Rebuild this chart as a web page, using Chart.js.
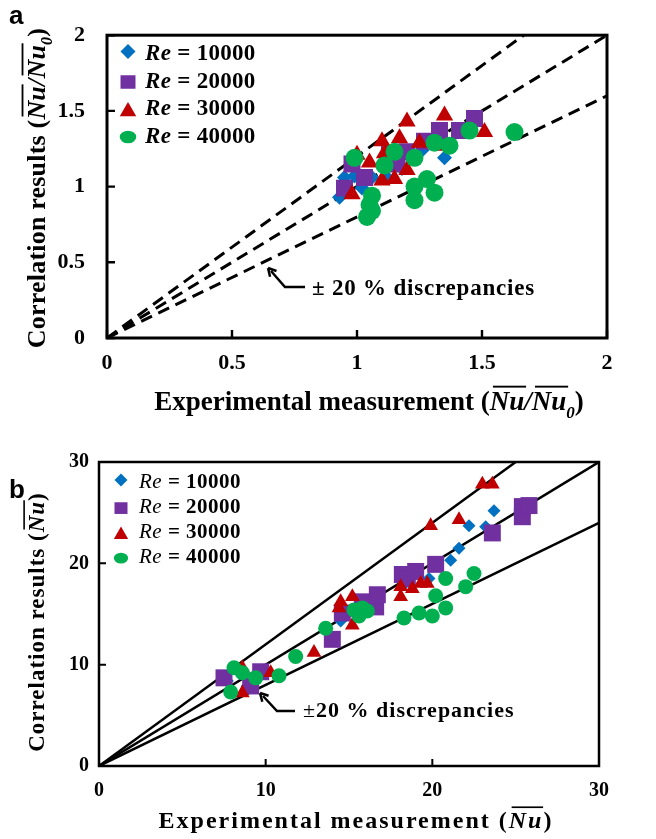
<!DOCTYPE html>
<html>
<head>
<meta charset="utf-8">
<script src="https://cdn.jsdelivr.net/npm/chart.js@4.4.1/dist/chart.umd.min.js"></script>
<style>
body { margin: 0; background: #fff; }
canvas { position: absolute; left: 0; }
</style>
</head>
<body>
<canvas id="chartA" width="656" height="420" style="top:0"></canvas>
<canvas id="chartB" width="656" height="419" style="top:420px"></canvas>
<script>
// series labels and colours
var seriesNames = ['10000', '20000', '30000', '40000'];
var seriesColors = ['#0070C0', '#7030A0', '#C00000', '#00B050'];

// panel a: Nu/Nu0
var aTicks = [0, 0.5, 1, 1.5, 2];
var aX10000 = [0.93, 0.95, 0.99, 1.02, 1.06, 1.11, 1.12, 1.18, 1.26, 1.35];
var aY10000 = [0.93, 1.06, 1.07, 0.99, 1.06, 1.15, 1.06, 1.12, 1.24, 1.19];
var aX20000 = [0.95, 0.98, 1.03, 1.13, 1.16, 1.20, 1.27, 1.33, 1.33, 1.41, 1.47];
var aY20000 = [0.99, 1.15, 1.06, 1.22, 1.15, 1.23, 1.30, 1.37, 1.31, 1.37, 1.45];
var aX30000 = [0.98, 1.00, 1.05, 1.10, 1.10, 1.11, 1.15, 1.17, 1.20, 1.20, 1.25, 1.33, 1.35, 1.51];
var aY30000 = [0.95, 1.21, 1.16, 1.30, 1.04, 1.22, 1.05, 1.32, 1.43, 1.11, 1.29, 1.27, 1.47, 1.36];
var aX40000 = [0.99, 1.04, 1.05, 1.06, 1.06, 1.11, 1.15, 1.23, 1.23, 1.23, 1.28, 1.31, 1.31, 1.37, 1.45, 1.63];
var aY40000 = [1.19, 0.80, 0.88, 0.84, 0.94, 1.14, 1.23, 1.19, 1.00, 0.91, 1.05, 0.96, 1.29, 1.27, 1.37, 1.36];
// +20 %, parity, -20 % lines (end points)
var aLineX = [[0, 1.667], [0, 2], [0, 2]];
var aLineY = [[0, 2], [0, 2], [0, 1.6]];

// panel b: Nu
var bTicks = [0, 10, 20, 30];
var bX10000 = [7.7, 8.9, 14.5, 14.7, 18.3, 19.8, 21.1, 21.6, 22.2, 23.2, 23.7];
var bY10000 = [8.4, 7.9, 14.3, 15.1, 17.9, 18.5, 20.3, 21.5, 23.7, 23.6, 25.2];
var bX20000 = [7.5, 9.1, 9.7, 14.0, 14.6, 15.8, 16.6, 16.7, 18.2, 18.5, 19.0, 20.2, 23.6, 25.4, 25.4, 25.8];
var bY20000 = [8.7, 7.9, 9.3, 12.5, 15.1, 16.2, 15.7, 16.9, 18.9, 18.5, 19.2, 19.9, 23.0, 25.6, 24.6, 25.7];
var bX30000 = [8.6, 8.6, 10.3, 12.9, 14.4, 14.5, 15.2, 15.2, 18.1, 18.1, 18.8, 19.3, 19.7, 19.9, 21.6, 23.0, 23.6];
var bY30000 = [7.2, 9.7, 9.2, 11.2, 15.6, 16.2, 16.7, 13.9, 17.7, 16.7, 17.5, 18.0, 18.0, 23.7, 24.3, 27.8, 27.8];
var bX40000 = [7.9, 8.1, 8.6, 9.4, 10.8, 11.8, 13.6, 15.3, 15.6, 15.8, 16.1, 18.3, 19.2, 20.0, 20.2, 20.8, 20.8, 22.0, 22.5];
var bY40000 = [7.3, 9.7, 9.2, 8.7, 8.9, 10.8, 13.6, 15.4, 14.8, 15.6, 15.3, 14.6, 15.1, 14.8, 16.8, 15.6, 18.5, 17.7, 19.0];
var bLineX = [[0, 25], [0, 30], [0, 30]];
var bLineY = [[0, 30], [0, 30], [0, 24]];

var SERIF = '"Liberation Serif", "Times New Roman", serif';

function pts(xs, ys) {
  return xs.map(function (x, i) { return { x: x, y: ys[i] }; });
}

function runFont(r, size) {
  var s = r.sub ? Math.round(size * 0.62) : size;
  return (r.italic ? 'italic ' : '') + (r.light ? '' : 'bold ') + s + 'px ' + SERIF;
}

// draws a line of text made of runs (italic / subscript / overline)
function drawRuns(ctx, runs, x, y, size, align, rotate, spacing) {
  ctx.save();
  ctx.translate(x, y);
  if (rotate) ctx.rotate(-Math.PI / 2);
  ctx.letterSpacing = (spacing || 0) + 'px';
  var total = 0;
  runs.forEach(function (r) {
    ctx.font = runFont(r, size);
    r.w = ctx.measureText(r.t).width;
    total += r.w;
  });
  var cx = align === 'center' ? -total / 2 : 0;
  ctx.fillStyle = '#000';
  ctx.textBaseline = 'alphabetic';
  ctx.textAlign = 'left';
  runs.forEach(function (r) {
    ctx.font = runFont(r, size);
    ctx.fillText(r.t, cx, r.sub ? size * 0.28 : 0);
    if (r.over) ctx.fillRect(cx + size * 0.12, -size * 0.9, r.w - size * 0.05 - (spacing || 0), Math.max(1.5, size * 0.07));
    cx += r.w;
  });
  ctx.restore();
}

function drawArrow(ctx, tip, elbow, end, head, lw) {
  ctx.save();
  ctx.strokeStyle = '#000';
  ctx.lineWidth = lw;
  ctx.beginPath();
  ctx.moveTo(end[0], end[1]);
  ctx.lineTo(elbow[0], elbow[1]);
  ctx.lineTo(tip[0] + 3, tip[1] + 3);
  ctx.stroke();
  var ang = Math.atan2(tip[1] - elbow[1], tip[0] - elbow[0]);
  ctx.beginPath();
  ctx.moveTo(tip[0], tip[1]);
  ctx.lineTo(tip[0] - head * Math.cos(ang - 0.5), tip[1] - head * Math.sin(ang - 0.5));
  ctx.moveTo(tip[0], tip[1]);
  ctx.lineTo(tip[0] - head * Math.cos(ang + 0.5), tip[1] - head * Math.sin(ang + 0.5));
  ctx.stroke();
  ctx.restore();
}

function legendMarker(ctx, i, x, y, s) {
  ctx.save();
  ctx.fillStyle = seriesColors[i];
  ctx.beginPath();
  if (i === 0) {
    ctx.moveTo(x, y - s * 0.5); ctx.lineTo(x + s * 0.5, y); ctx.lineTo(x, y + s * 0.5); ctx.lineTo(x - s * 0.5, y);
  } else if (i === 1) {
    ctx.rect(x - s * 0.5, y - s * 0.45, s, s * 0.9);
  } else if (i === 2) {
    ctx.moveTo(x, y - s * 0.5); ctx.lineTo(x + s * 0.55, y + s * 0.45); ctx.lineTo(x - s * 0.55, y + s * 0.45);
  } else {
    ctx.ellipse(x, y, s * 0.55, s * 0.42, 0, 0, Math.PI * 2);
  }
  ctx.closePath();
  ctx.fill();
  ctx.restore();
}

function makeDatasets(xs, ys, lineX, lineY, radii, dashed, lineWidth) {
  var styles = ['rectRot', 'rect', 'triangle', 'circle'];
  var sets = [];
  for (var i = 0; i < 4; i++) {
    sets.push({
      label: 'Re = ' + seriesNames[i],
      data: pts(xs[i], ys[i]),
      showLine: false,
      pointStyle: styles[i],
      pointRadius: radii[i],
      pointBackgroundColor: seriesColors[i],
      pointBorderColor: seriesColors[i],
      pointBorderWidth: 0,
      order: 4 - i
    });
  }
  for (var j = 0; j < 3; j++) {
    sets.push({
      label: 'line' + j,
      data: pts(lineX[j], lineY[j]),
      showLine: true,
      borderColor: '#000',
      borderWidth: lineWidth,
      borderDash: dashed ? [12, 7] : [],
      pointRadius: 0,
      fill: false,
      order: 10
    });
  }
  return sets;
}

function framePlugin(p) {
  return {
    id: 'frame' + p.name,
    afterDraw: function (chart) {
      var ctx = chart.ctx, a = chart.chartArea;
      var xs = chart.scales.x, ys = chart.scales.y;
      ctx.save();
      ctx.strokeStyle = '#000';
      ctx.lineWidth = p.frame;
      ctx.strokeRect(a.left, a.top, a.right - a.left, a.bottom - a.top);
      // inward tick marks
      ctx.lineWidth = p.frame * 0.8;
      ctx.beginPath();
      p.ticks.forEach(function (v) {
        var px = xs.getPixelForValue(v), py = ys.getPixelForValue(v);
        ctx.moveTo(px, a.bottom); ctx.lineTo(px, a.bottom - p.tickLen);
        ctx.moveTo(a.left, py); ctx.lineTo(a.left + p.tickLen, py);
      });
      ctx.stroke();
      ctx.restore();

      // panel letter
      ctx.save();
      ctx.fillStyle = '#000';
      ctx.font = 'bold 26px "Liberation Sans", Arial, sans-serif';
      ctx.textBaseline = 'alphabetic';
      ctx.fillText(p.name, 9, p.letterY);
      ctx.restore();

      // legend
      for (var i = 0; i < 4; i++) {
        var ly = p.legY + i * p.legStep;
        legendMarker(ctx, i, p.legMarkX, ly - p.legSize * 0.3 - (i === 0 ? 3 : 0), p.legSize);
        drawRuns(ctx, [{ t: 'Re', italic: true, light: p.reLight }, { t: ' = ' + seriesNames[i] }],
          p.legTextX, ly + p.legFont * 0.05, p.legFont, 'left', false, p.legSpacing);
      }

      // annotation
      drawArrow(ctx, p.arrow[0], p.arrow[1], p.arrow[2], 9, 2.5);
      drawRuns(ctx, [{ t: '±', light: p.pmLight }, { t: p.annGap + '20 % discrepancies' }],
        p.annX, p.annY, p.annFont, 'left', false, p.annSpacing);

      // axis titles
      drawRuns(ctx, p.xTitle, p.xTitlePos[0], p.xTitlePos[1], p.titleFont, 'center', false, p.titleSpacing);
      drawRuns(ctx, p.yTitle, p.yTitlePos[0], p.yTitlePos[1], p.yTitleFont, 'center', true, p.yTitleSpacing);
    }
  };
}

function makeChart(id, p) {
  var ctx = document.getElementById(id).getContext('2d');
  var tickLabel = function (v) { return String(v); };
  return new Chart(ctx, {
    type: 'scatter',
    data: { datasets: makeDatasets(p.xs, p.ys, p.lineX, p.lineY, p.radii, p.dashed, p.lineWidth) },
    options: {
      responsive: false,
      animation: false,
      devicePixelRatio: 1,
      layout: { padding: p.padding },
      plugins: { legend: { display: false }, tooltip: { enabled: false } },
      scales: {
        x: {
          type: 'linear', min: p.ticks[0], max: p.ticks[p.ticks.length - 1],
          afterBuildTicks: function (s) { s.ticks = p.ticks.map(function (v) { return { value: v }; }); },
          afterFit: function (s) { s.height = p.xAxisH; },
          grid: { display: false, drawTicks: false },
          border: { display: false },
          ticks: { color: '#000', padding: p.xTickPad, callback: tickLabel,
            font: { family: SERIF, size: p.tickFont, weight: 'bold' } }
        },
        y: {
          type: 'linear', min: p.ticks[0], max: p.ticks[p.ticks.length - 1],
          afterBuildTicks: function (s) { s.ticks = p.ticks.map(function (v) { return { value: v }; }); },
          afterFit: function (s) { s.width = p.yAxisW; },
          grid: { display: false, drawTicks: false },
          border: { display: false },
          ticks: { color: '#000', padding: p.yTickPad, callback: tickLabel,
            font: { family: SERIF, size: p.tickFont, weight: 'bold' } }
        }
      }
    },
    plugins: [framePlugin(p)]
  });
}

makeChart('chartA', {
  name: 'a', letterY: 24,
  xs: [aX10000, aX20000, aX30000, aX40000], ys: [aY10000, aY20000, aY30000, aY40000],
  lineX: aLineX, lineY: aLineY, ticks: aTicks,
  radii: [7.5, 12, 10, 9], dashed: true, lineWidth: 3,
  padding: { left: 0, right: 49, top: 33, bottom: 0 },
  xAxisH: 82, yAxisW: 107, xTickPad: 12, yTickPad: 22, tickFont: 22,
  frame: 3, tickLen: 8,
  legMarkX: 128, legTextX: 145, legY: 59, legStep: 27.5, legSize: 15, legFont: 23, legSpacing: 0.3, reLight: false,
  arrow: [[268, 268], [285, 287], [305, 287]], annX: 312, annY: 295, annFont: 23, annGap: ' ', annSpacing: 0.8, pmLight: false,
  titleFont: 27, titleSpacing: 0, yTitleFont: 26, yTitleSpacing: 0.2,
  xTitle: [{ t: 'Experimental measurement (' }, { t: 'Nu', italic: true, over: true }, { t: '/', italic: true },
    { t: 'Nu', italic: true, over: true }, { t: '0', italic: true, sub: true }, { t: ')' }],
  xTitlePos: [369, 410],
  yTitle: [{ t: 'Correlation results (' }, { t: 'Nu', italic: true, over: true }, { t: '/', italic: true },
    { t: 'Nu', italic: true, over: true }, { t: '0', italic: true, sub: true }, { t: ')' }],
  yTitlePos: [45, 188]
});

makeChart('chartB', {
  name: 'b', letterY: 78,
  xs: [bX10000, bX20000, bX30000, bX40000], ys: [bY10000, bY20000, bY30000, bY40000],
  lineX: bLineX, lineY: bLineY, ticks: bTicks,
  radii: [6.5, 12, 8.5, 7.5], dashed: false, lineWidth: 2.5,
  padding: { left: 0, right: 57, top: 42, bottom: 0 },
  xAxisH: 73, yAxisW: 99, xTickPad: 13, yTickPad: 10, tickFont: 20,
  frame: 2.5, tickLen: 7,
  legMarkX: 121, legTextX: 139, legY: 67, legStep: 25, legSize: 13, legFont: 21, legSpacing: 0.5, reLight: true,
  arrow: [[260, 273], [277, 291], [295, 291]], annX: 303, annY: 297, annFont: 22, annGap: '', annSpacing: 1, pmLight: true,
  titleFont: 24, titleSpacing: 2, yTitleFont: 23, yTitleSpacing: 1,
  xTitle: [{ t: 'Experimental measurement (' }, { t: 'Nu', italic: true, over: true }, { t: ')' }],
  xTitlePos: [356, 408],
  yTitle: [{ t: 'Correlation results (' }, { t: 'Nu', italic: true, over: true }, { t: ')' }],
  yTitlePos: [44, 202]
});
</script>
</body>
</html>
